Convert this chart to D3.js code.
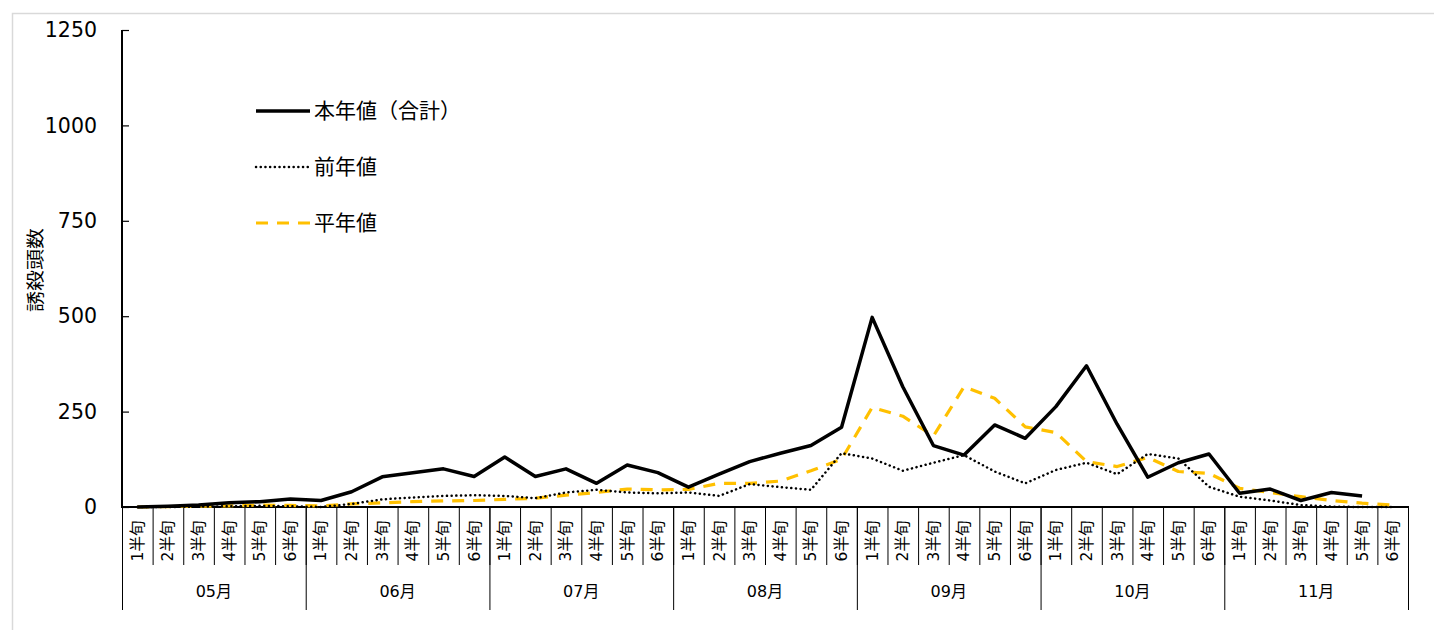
<!DOCTYPE html>
<html lang="ja">
<head>
  <meta charset="UTF-8">
  <title>誘殺頭数</title>
  <script src="https://d3js.org/d3.v7.min.js"></script>
  <style>
    body { margin: 0; background: #fff; font-family: "DejaVu Sans", "Noto Sans CJK JP", sans-serif; }
  </style>
</head>
<body>
  <div id="chart"></div>

  <script>
    const width = 1434;
    const height = 630;
    const margin = { top: 30, right: 26, bottom: 123, left: 122 };

    // Data
    const months = ["05月", "06月", "07月", "08月", "09月", "10月", "11月"];
    const halves = ["1半旬", "2半旬", "3半旬", "4半旬", "5半旬", "6半旬"];
    const yTicks = [0, 250, 500, 750, 1000, 1250];

    const thisYear = [
      0, 2, 5, 11, 14, 21,
      17, 40, 79, 90, 100, 80,
      131, 80, 100, 62, 110, 90,
      52, 86, 119, 141, 161, 209,
      497, 315, 161, 136, 215, 180,
      263, 370, 217, 78, 116, 139,
      36, 47, 17, 38, 29, null
    ];
    const lastYear = [
      0, 0, 1, 2, 3, 2,
      0, 8, 20, 25, 29, 31,
      29, 23, 38, 45, 38, 36,
      38, 29, 60, 52, 45, 141,
      127, 95, 116, 136, 93, 62,
      97, 116, 86, 139, 127, 53,
      27, 17, 5, 1, 0, 0
    ];
    const normalYear = [
      0, 1, 2, 3, 5, 4,
      3, 8, 11, 14, 16, 17,
      20, 23, 31, 38, 47, 45,
      46, 62, 62, 68, 95, 125,
      261, 238, 186, 315, 285, 210,
      195, 119, 106, 130, 93, 88,
      49, 38, 27, 17, 10, 5
    ];

    const series = [
      { name: "本年値（合計）", values: thisYear, color: "#000", width: 3.5, dash: null, cap: "butt" },
      { name: "前年値", values: lastYear, color: "#000", width: 2.5, dash: "0.1,4.6", cap: "round" },
      { name: "平年値", values: normalYear, color: "#FFC000", width: 3.2, dash: "12,9", cap: "butt" }
    ];

    const cats = [];
    months.forEach(m => halves.forEach(h => cats.push(m + "|" + h)));

    const svg = d3.select("#chart").append("svg")
      .attr("width", width)
      .attr("height", height);

    // outer frame
    svg.append("rect")
      .attr("x", 12.5).attr("y", 13.5)
      .attr("width", width).attr("height", height)
      .attr("fill", "none")
      .attr("stroke", "#d9d9d9")
      .attr("stroke-width", 1.5);

    const x = d3.scaleBand()
      .domain(cats)
      .range([margin.left, width - margin.right]);

    const y = d3.scaleLinear()
      .domain([0, 1250])
      .range([height - margin.bottom, margin.top]);

    const y0 = y(0);

    // Y axis
    const yAxis = svg.append("g")
      .attr("transform", `translate(${margin.left},0)`)
      .call(d3.axisRight(y).tickValues(yTicks).tickSize(7).tickFormat(""));
    yAxis.select(".domain").attr("stroke", "#000").attr("stroke-width", 2)
      .attr("d", `M0,${y(1250)}V${y0}`);
    yAxis.selectAll(".tick line").attr("stroke", "#000").attr("stroke-width", 1.2);

    svg.append("g").selectAll("text")
      .data(yTicks)
      .join("text")
      .attr("x", 97)
      .attr("y", d => y(d))
      .attr("dy", "0.35em")
      .attr("text-anchor", "end")
      .style("font-size", "20.5px")
      .attr("fill", "#000")
      .text(d => d);

    svg.append("text")
      .attr("transform", `translate(36,270) rotate(-90) scale(1,0.85)`)
      .attr("text-anchor", "middle")
      .attr("dy", "0.35em")
      .style("font-size", "21px")
      .text("誘殺頭数");

    // X axis: category ticks
    const xg = svg.append("g");
    const bw = x.bandwidth();
    xg.selectAll("line.cat")
      .data(cats)
      .join("line")
      .attr("class", "cat")
      .attr("x1", d => x(d) + 0.5).attr("x2", d => x(d) + 0.5)
      .attr("y1", y0).attr("y2", 565)
      .attr("stroke", "#000").attr("stroke-width", 1);

    // month separators
    const monthEdges = months.map(m => x(m + "|" + halves[0]));
    monthEdges.push(x(cats[cats.length - 1]) + bw);
    xg.selectAll("line.month")
      .data(monthEdges)
      .join("line")
      .attr("class", "month")
      .attr("x1", d => d + 0.5).attr("x2", d => d + 0.5)
      .attr("y1", y0).attr("y2", 610)
      .attr("stroke", "#000").attr("stroke-width", 1);

    xg.append("line")
      .attr("x1", margin.left - 1).attr("x2", width - margin.right + 1)
      .attr("y1", y0).attr("y2", y0)
      .attr("stroke", "#000").attr("stroke-width", 2);

    xg.selectAll("text.cat")
      .data(cats)
      .join("text")
      .attr("class", "cat")
      .attr("transform", d => `translate(${x(d) + bw / 2},541) rotate(-90)`)
      .attr("text-anchor", "middle")
      .attr("dy", "0.35em")
      .style("font-size", "15.5px")
      .text(d => d.split("|")[1]);

    xg.selectAll("text.month")
      .data(months)
      .join("text")
      .attr("class", "month")
      .attr("x", (m, i) => (monthEdges[i] + monthEdges[i + 1]) / 2)
      .attr("y", 591)
      .attr("dy", "0.35em")
      .attr("text-anchor", "middle")
      .style("font-size", "16px")
      .text(m => m);

    // Lines
    const line = d3.line()
      .defined(d => d.v != null)
      .x(d => x(d.c) + bw / 2)
      .y(d => y(d.v));

    series.slice().reverse().forEach(s => {
      svg.append("path")
        .datum(cats.map((c, i) => ({ c, v: s.values[i] })))
        .attr("d", line)
        .attr("fill", "none")
        .attr("stroke", s.color)
        .attr("stroke-width", s.width)
        .attr("stroke-linejoin", "round")
        .attr("stroke-linecap", s.cap)
        .attr("stroke-dasharray", s.dash);
    });

    // Legend
    const legend = svg.append("g");
    series.forEach((s, i) => {
      const ly = 111 + i * 56;
      legend.append("line")
        .attr("x1", 256).attr("x2", 310)
        .attr("y1", ly).attr("y2", ly)
        .attr("stroke", s.color)
        .attr("stroke-width", s.width)
        .attr("stroke-linecap", s.cap)
        .attr("stroke-dasharray", s.dash);
      legend.append("text")
        .attr("x", 314)
        .attr("y", ly)
        .attr("dy", "0.35em")
        .style("font-size", "21px")
        .text(s.name);
    });
  </script>
</body>
</html>
